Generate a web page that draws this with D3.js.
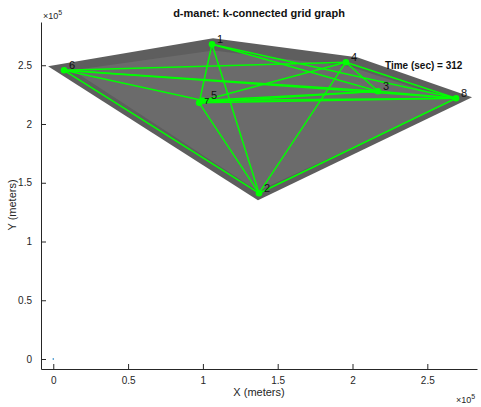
<!DOCTYPE html>
<html><head><meta charset="utf-8">
<script src="https://cdn.jsdelivr.net/npm/d3@7"></script>
<style>body{margin:0;background:#fff}svg{display:block;font-family:"Liberation Sans",Arial,sans-serif}</style>
</head><body><svg id="c" width="481" height="407"></svg>
<script>
// node data (x, y in units of 1e5 meters)
const nodeIds = [1, 2, 3, 4, 5, 6, 7, 8];
const nodeX = [1.061, 1.375, 2.170, 1.956, 1.000, 0.072, 0.975, 2.692];
const nodeY = [2.679, 1.411, 2.279, 2.526, 2.200, 2.457, 2.180, 2.219];
const edges = [[6,4],[6,3],[6,8],[6,5],[6,2],[1,3],[1,8],[1,7],[1,2],
  [4,3],[4,8],[4,5],[4,2],[3,8],[5,3],[7,8],[5,8],[7,3],[8,2],[2,7],[5,7]];
const outerX = [-0.035, 1.068, 2.03, 2.799, 1.368];
const outerY = [2.491, 2.730, 2.568, 2.228, 1.352];
const innerX = [0.13, 1.068, 1.98, 2.68, 1.368];
const innerY = [2.457, 2.625, 2.49, 2.20, 1.43];
const xTicks = [0, 0.5, 1, 1.5, 2, 2.5];
const yTicks = [0, 0.5, 1, 1.5, 2, 2.5];
const timeSec = 312;

const svg = d3.select("#c");
const L = 41, R = 477, T = 22, B = 369;
const x = d3.scaleLinear().domain([-0.082, 2.832]).range([L, R]);
const y = d3.scaleLinear().domain([-0.085, 2.868]).range([B, T]);
const axc = "#262626";

const poly = (xs, ys) => xs.map((v, i) => [x(v), y(ys[i])]).join(" ");
svg.append("polygon").attr("points", poly(outerX, outerY)).attr("fill", "#5e5e5e");
svg.append("polygon").attr("points", poly(innerX, innerY)).attr("fill", "#6b6b6b");

const idx = id => nodeIds.indexOf(id);
svg.append("g").selectAll("line").data(edges).join("line")
  .attr("x1", d => x(nodeX[idx(d[0])])).attr("y1", d => y(nodeY[idx(d[0])]))
  .attr("x2", d => x(nodeX[idx(d[1])])).attr("y2", d => y(nodeY[idx(d[1])]))
  .attr("stroke", "#00ff00").attr("stroke-width", 1.5);

svg.append("g").selectAll("circle").data(nodeIds).join("circle")
  .attr("cx", (d, i) => x(nodeX[i])).attr("cy", (d, i) => y(nodeY[i]))
  .attr("r", 3.3).attr("fill", "#00ff00");
svg.append("g").selectAll("text").data(nodeIds).join("text")
  .attr("x", (d, i) => x(nodeX[i]) + (d === 5 ? 8 : 5)).attr("y", (d, i) => y(nodeY[i]) - (d === 7 ? -1 : 1))
  .attr("font-size", d => d === 7 ? 9 : 11).attr("fill", "#111").text(d => d);

// origin marker
svg.append("circle").attr("cx", x(0)).attr("cy", y(0)).attr("r", 0.8).attr("fill", "#0072bd");

// axes
const xa = svg.append("g").attr("transform", `translate(0,${B})`)
  .call(d3.axisBottom(x).tickValues(xTicks).tickSizeInner(-5).tickSizeOuter(0).tickPadding(8).tickFormat(d3.format("")));
const ya = svg.append("g").attr("transform", `translate(${L},0)`)
  .call(d3.axisLeft(y).tickValues(yTicks).tickSizeInner(-5).tickSizeOuter(0).tickPadding(9).tickFormat(d3.format("")));
[xa, ya].forEach(a => {
  a.select(".domain").attr("stroke", axc);
  a.selectAll(".tick line").attr("stroke", axc);
  a.selectAll(".tick text").attr("fill", axc).attr("font-size", 10).attr("font-family", "Liberation Sans, Arial, sans-serif");
});

svg.append("text").attr("x", 259).attr("y", 17).attr("text-anchor", "middle")
  .attr("font-size", 11).attr("font-weight", "bold").attr("fill", "#111").text("d-manet: k-connected grid graph");
svg.append("text").attr("x", 259).attr("y", 396).attr("text-anchor", "middle")
  .attr("font-size", 11).attr("fill", axc).text("X (meters)");
svg.append("text").attr("transform", "translate(16,205) rotate(-90)").attr("text-anchor", "middle")
  .attr("font-size", 11).attr("fill", axc).text("Y (meters)");
const e1 = svg.append("text").attr("x", 43).attr("y", 19).attr("font-size", 9).attr("fill", axc);
e1.append("tspan").text("\u00d710");
e1.append("tspan").attr("dy", -4).attr("font-size", 7).text("5");
const e2 = svg.append("text").attr("x", 456).attr("y", 403).attr("font-size", 9).attr("fill", axc);
e2.append("tspan").text("\u00d710");
e2.append("tspan").attr("dy", -4).attr("font-size", 7).text("5");
svg.append("text").attr("x", 385).attr("y", 69).attr("font-size", 10).attr("font-weight", "bold")
  .attr("fill", "#111").text(`Time (sec) = ${timeSec}`);
</script></body></html>
